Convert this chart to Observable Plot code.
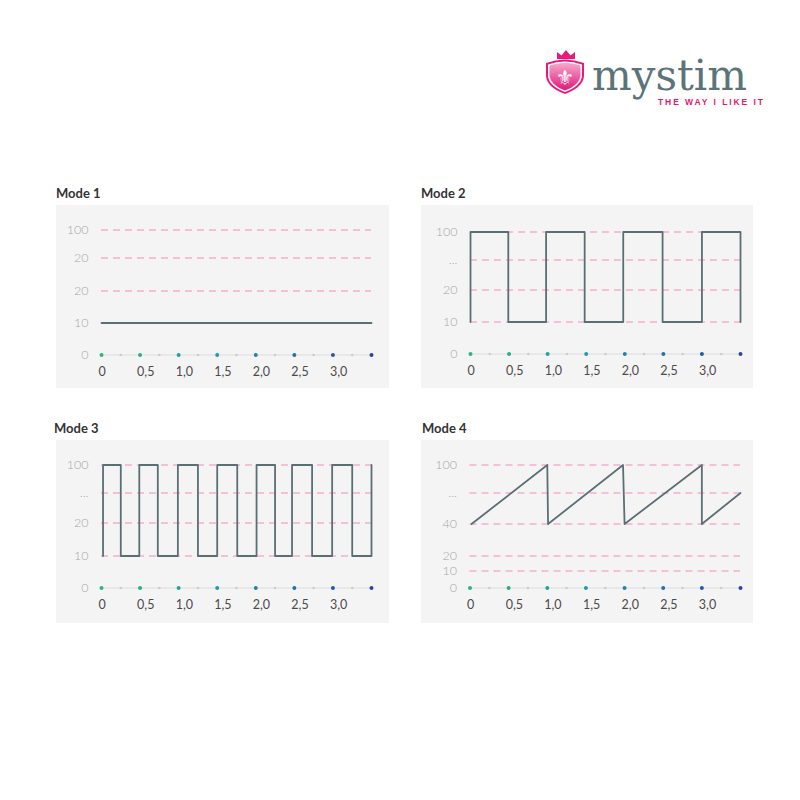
<!DOCTYPE html>
<html>
<head>
<meta charset="utf-8">
<script src="https://cdn.jsdelivr.net/npm/d3@7"></script>
<script src="https://cdn.jsdelivr.net/npm/@observablehq/plot@0.6"></script>
<style>
  html, body { margin: 0; padding: 0; background: #ffffff; }
  #page { position: relative; width: 800px; height: 800px; overflow: hidden; }
  .title { position: absolute; font-family: Lato, "Open Sans", sans-serif; font-weight: 700; font-size: 13px; line-height: 13px; color: #333; white-space: nowrap; }
  .panel { position: absolute; }
  .panel svg { display: block; }
  #logo { position: absolute; left: 540px; top: 45px; }
</style>
</head>
<body>
<div id="page">
  <svg id="logo" width="240" height="70" viewBox="0 0 240 70">
    <defs>
      <linearGradient id="shieldGrad" x1="0" y1="0" x2="0" y2="1">
        <stop offset="0" stop-color="#f7a9cb"/>
        <stop offset="1" stop-color="#e0177a"/>
      </linearGradient>
    </defs>
    <path d="M17,14 L17,7 L21.5,10.5 L26,5 L30.5,10.5 L35,7 L35,14 Z" fill="#e8197a"/>
    <path d="M6,18 Q25,11 44,18 L44,31 Q43,42.5 25,49 Q7,42.5 6,31 Z" fill="#e8197a"/>
    <path d="M8,19.5 Q25,13.5 42,19.5 L42,31 Q41,41 25,47 Q9,41 8,31 Z" fill="#ffffff"/>
    <path d="M9.5,20.5 Q25,15 40.5,20.5 L40.5,31 Q39.5,40 25,45.5 Q10.5,40 9.5,31 Z" fill="url(#shieldGrad)"/>
    <text x="25" y="39.5" text-anchor="middle" font-family="DejaVu Sans" font-size="21" fill="#ffffff">⚜</text>
    <text x="52" y="45" font-family="DejaVu Serif" font-size="42" fill="#5c7479" textLength="155" lengthAdjust="spacingAndGlyphs">mystim</text>
    <text x="118" y="60" font-family="Liberation Sans, Arial, sans-serif" font-weight="700" font-size="8.5" fill="#e5176f" textLength="105" lengthAdjust="spacing">THE WAY I LIKE IT</text>
  </svg>
  <div class="title" style="left:56px; top:187px;">Mode 1</div>
  <div class="title" style="left:421px; top:187px;">Mode 2</div>
  <div class="title" style="left:54px; top:422px;">Mode 3</div>
  <div class="title" style="left:422px; top:422px;">Mode 4</div>
  <div class="panel" id="p1" style="left:56px; top:205px;"></div>
  <div class="panel" id="p2" style="left:421px; top:205px;"></div>
  <div class="panel" id="p3" style="left:56px; top:440px;"></div>
  <div class="panel" id="p4" style="left:421px; top:440px;"></div>
</div>
<script>
// ---- data ----
const xTicks = [0, 0.5, 1, 1.5, 2, 2.5, 3, 3.5];
const xTickLabels = ["0", "0,5", "1,0", "1,5", "2,0", "2,5", "3,0", ""];
const minorTicks = [0.25, 0.75, 1.25, 1.75, 2.25, 2.75, 3.25];

const mode1Levels = [0, 10, 20, 50, 100];
const mode1LevelLabels = ["0", "10", "20", "20", "100"];
const mode1Grid = [20, 50, 100];
const mode1X = [0, 3.5];
const mode1Y = [10, 10];

const mode2Levels = [0, 10, 20, 50, 100];
const mode2LevelLabels = ["0", "10", "20", "...", "100"];
const mode2Grid = [10, 20, 50, 100];
const mode2X = [0, 0, 0.49, 0.49, 0.98, 0.98, 1.48, 1.48, 1.98, 1.98, 2.49, 2.49, 3.0, 3.0, 3.5, 3.5];
const mode2Y = [10, 100, 100, 10, 10, 100, 100, 10, 10, 100, 100, 10, 10, 100, 100, 10];

const mode3Levels = [0, 10, 20, 50, 100];
const mode3LevelLabels = ["0", "10", "20", "...", "100"];
const mode3Grid = [10, 20, 50, 100];
const mode3X = [0.02, 0.02, 0.25, 0.25, 0.49, 0.49, 0.73, 0.73, 0.99, 0.99, 1.25, 1.25, 1.5, 1.5, 1.76, 1.76,
                2.01, 2.01, 2.25, 2.25, 2.47, 2.47, 2.73, 2.73, 2.99, 2.99, 3.25, 3.25, 3.5, 3.5];
const mode3Y = [10, 100, 100, 10, 10, 100, 100, 10, 10, 100, 100, 10, 10, 100, 100, 10,
                10, 100, 100, 10, 10, 100, 100, 10, 10, 100, 100, 10, 10, 100];

const mode4Levels = [0, 10, 20, 40, 70, 100];
const mode4LevelLabels = ["0", "10", "20", "40", "...", "100"];
const mode4Grid = [10, 20, 40, 70, 100];
const mode4X = [0.02, 1.0, 1.01, 1.98, 2.0, 3.0, 3.0, 3.5];
const mode4Y = [40, 100, 40, 100, 40, 100, 40, 70];

// ---- drawing ----
function panel({levels, labels, grid, xs, ys, yRange, marginLeft, marginRight, width}) {
  const pts = xs.map((x, i) => ({x, y: ys[i]}));
  const yl = levels.map((v, i) => ({v, label: labels[i]}));
  const xl = xTicks.map((v, i) => ({v, label: xTickLabels[i]}));
  return Plot.plot({
    width, height: 183,
    marginLeft, marginRight, marginTop: 0, marginBottom: 0,
    style: {background: "#f5f4f5", fontFamily: "Lato, 'Open Sans', sans-serif"},
    x: {domain: [0, 3.5], axis: null},
    y: {type: "linear", domain: levels, range: yRange, axis: null},
    color: {type: "linear", domain: [0, 1.5, 3.5], range: ["#2bb57c", "#1f9ab0", "#2b43a5"]},
    marks: [
      Plot.ruleY(grid, {x1: 0, x2: 3.5, stroke: "#f08dba", strokeWidth: 1, strokeDasharray: "7,5"}),
      Plot.ruleY([0], {x1: 0, x2: 3.5, stroke: "#dddcdd", strokeWidth: 1}),
      Plot.dot(minorTicks, {x: d => d, y: 0, r: 1.3, fill: "#cccccc"}),
      Plot.dot(xTicks, {x: d => d, y: 0, r: 2, fill: d => d}),
      Plot.line(pts, {x: "x", y: "y", stroke: "#5a6f74", strokeWidth: 1.8, curve: "linear"}),
      Plot.text(yl, {x: 0, y: "v", text: "label", textAnchor: "end", dx: -13, fill: "#a6a6a6", fontSize: 12.5, fontWeight: 300}),
      Plot.text(xl, {x: "v", y: 0, text: "label", textAnchor: "start", dx: -3, dy: 17, fill: "#4a4a4a", fontSize: 12.5})
    ]
  });
}

document.getElementById("p1").appendChild(panel({
  levels: mode1Levels, labels: mode1LevelLabels, grid: mode1Grid, xs: mode1X, ys: mode1Y,
  yRange: [149.5, 117.5, 85.5, 52.5, 24.5], marginLeft: 45, marginRight: 18, width: 333
}));
document.getElementById("p2").appendChild(panel({
  levels: mode2Levels, labels: mode2LevelLabels, grid: mode2Grid, xs: mode2X, ys: mode2Y,
  yRange: [148.5, 116.5, 84.5, 54.5, 26.5], marginLeft: 49, marginRight: 13, width: 332
}));
document.getElementById("p3").appendChild(panel({
  levels: mode3Levels, labels: mode3LevelLabels, grid: mode3Grid, xs: mode3X, ys: mode3Y,
  yRange: [147.5, 115.5, 82.5, 52.5, 24.5], marginLeft: 45, marginRight: 18, width: 333
}));
document.getElementById("p4").appendChild(panel({
  levels: mode4Levels, labels: mode4LevelLabels, grid: mode4Grid, xs: mode4X, ys: mode4Y,
  yRange: [147.5, 130.5, 115.5, 83.5, 52.5, 24.5], marginLeft: 48.5, marginRight: 13, width: 332
}));
</script>
</body>
</html>
